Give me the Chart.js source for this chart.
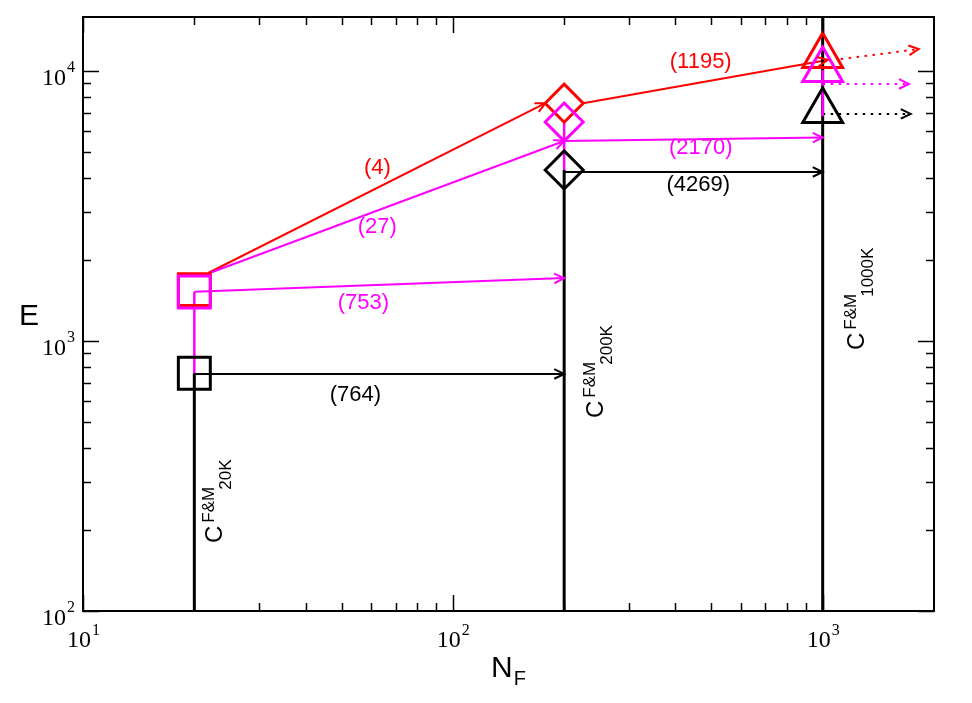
<!DOCTYPE html>
<html>
<head>
<meta charset="utf-8">
<script src="https://cdn.jsdelivr.net/npm/chart.js@4"></script>
<style>
  html, body { margin: 0; padding: 0; background: #fff; }
  canvas { display: block; }
</style>
</head>
<body>
<canvas id="chart" width="972" height="703"></canvas>
<script>
// N_F of the three models and the E value of each marker
const nF = [20, 200, 1000];
const blackE = [760, 4300, 7110];
const magentaE = [1520, 6470, 10090];
const redE = [1550, 7600, 11370];
const markerStyles = ['rect', 'rectRot', 'triangle'];

// solid arrows, [x0, y0, x1, y1]
const redArrows = [[21.8, 1786, 178, 7600], [225, 7600, 1031, 10985]];
const magentaArrows = [[22, 1786, 200, 5505], [20, 1521, 200, 1710], [200, 5505, 1000, 5672]];
const blackArrows = [[20, 755, 200, 755], [200, 4227, 1000, 4227]];
// dotted arrows past the last model
const redDotted = [1119, 11070, 1818, 12060];
const magentaDotted = [1000, 8954, 1711, 8954];
const blackDotted = [1000, 6936, 1730, 6936];
// vertical lines, [x, yFrom, yTo]
const blackDrops = [[20, 100, 760], [200, 100, 4300], [1000, 100, 15850]];
const magentaDrops = [[20, 1520, 760], [200, 6470, 4300], [1000, 10090, 6800]];

// annotations
const redLabels = ['(4)', '(1195)'];
const redLabelPos = [[62.5, 4375], [468, 10790]];
const magentaLabels = ['(27)', '(753)', '(2170)'];
const magentaLabelPos = [[62.5, 2642], [57.3, 1383], [468, 5188]];
const blackLabels = ['(764)', '(4269)'];
const blackLabelPos = [[54.5, 631], [461, 3784]];
const modelSubs = ['20K', '200K', '1000K'];
const modelLabelPos = [[23.8, 178.6], [254, 518.6], [1291, 926]];

// axes
const xMajor = [10, 100, 1000];
const xTickExp = ['1', '2', '3'];
const yMajor = [100, 1000, 10000];
const yTickExp = ['2', '3', '4'];

const RED = '#ff0000', MAG = '#ff00ff', BLK = '#000000';

function minorTicks(majors, max) {
    const out = [];
    majors.forEach(m => {
        out.push(m);
        for (let k = 2; k <= 9; k++) if (m * k < max) out.push(m * k);
    });
    return out;
}

function line(a, color, extra) {
    return Object.assign({
        data: [{ x: a[0], y: a[1] }, { x: a[2], y: a[3] }],
        showLine: true,
        borderColor: color,
        borderWidth: 2,
        pointRadius: 0,
        arrow: true,
        order: 5,
    }, extra);
}

function drop(d, color, width, order) {
    return {
        data: [{ x: d[0], y: d[1] }, { x: d[0], y: d[2] }],
        showLine: true,
        borderColor: color,
        borderWidth: width,
        pointRadius: 0,
        order: order,
    };
}

function markers(values, color, order) {
    return {
        data: nF.map((x, i) => ({ x: x, y: values[i] })),
        showLine: false,
        pointStyle: markerStyles,
        pointRadius: [22.6, 19, 23],
        pointBorderWidth: 3,
        pointBorderColor: color,
        pointBackgroundColor: 'rgba(0,0,0,0)',
        order: order,
    };
}

const datasets = [
    markers(magentaE, MAG, 0),
    markers(redE, RED, 1),
    markers(blackE, BLK, 2),
    ...magentaDrops.map(d => drop(d, MAG, 2.5, 3)),
    ...blackDrops.map(d => drop(d, BLK, 3, 4)),
    ...magentaArrows.map(a => line(a, MAG)),
    ...blackArrows.map(a => line(a, BLK)),
    ...redArrows.map(a => line(a, RED)),
    line(redDotted, RED, { borderDash: [2.5, 5.5] }),
    line(magentaDotted, MAG, { borderDash: [2.5, 5.5] }),
    line(blackDotted, BLK, { borderDash: [2.5, 5.5] }),
];

const decorations = {
    id: 'decorations',
    afterDatasetsDraw(chart) {
        const ctx = chart.ctx;
        const xs = chart.scales.x, ys = chart.scales.y;
        const area = chart.chartArea;

        // arrow heads
        chart.data.datasets.forEach((ds, i) => {
            if (!ds.arrow) return;
            const pts = chart.getDatasetMeta(i).data;
            const p0 = pts[0], p1 = pts[1];
            const ang = Math.atan2(p1.y - p0.y, p1.x - p0.x);
            const len = 11, spread = 0.45;
            ctx.save();
            ctx.strokeStyle = ds.borderColor;
            ctx.lineWidth = 2;
            ctx.beginPath();
            ctx.moveTo(p1.x - len * Math.cos(ang - spread), p1.y - len * Math.sin(ang - spread));
            ctx.lineTo(p1.x, p1.y);
            ctx.lineTo(p1.x - len * Math.cos(ang + spread), p1.y - len * Math.sin(ang + spread));
            ctx.stroke();
            ctx.restore();
        });

        // value labels
        ctx.save();
        ctx.font = '22px "Liberation Sans", Arial, sans-serif';
        ctx.textAlign = 'center';
        ctx.textBaseline = 'middle';
        const put = (texts, pos, color) => {
            ctx.fillStyle = color;
            texts.forEach((t, i) => ctx.fillText(t, xs.getPixelForValue(pos[i][0]), ys.getPixelForValue(pos[i][1])));
        };
        put(redLabels, redLabelPos, RED);
        put(magentaLabels, magentaLabelPos, MAG);
        put(blackLabels, blackLabelPos, BLK);
        ctx.restore();

        // rotated model labels C^{F&M}_{xxK}
        modelSubs.forEach((sub, i) => {
            ctx.save();
            ctx.translate(xs.getPixelForValue(modelLabelPos[i][0]), ys.getPixelForValue(modelLabelPos[i][1]));
            ctx.rotate(-Math.PI / 2);
            ctx.fillStyle = BLK;
            ctx.textBaseline = 'alphabetic';
            ctx.font = '24px "Liberation Sans", Arial, sans-serif';
            ctx.fillText('C', 0, 0);
            const wc = ctx.measureText('C').width;
            ctx.font = '17px "Liberation Sans", Arial, sans-serif';
            ctx.fillText('F&M', wc + 3, -8);
            const ws = ctx.measureText('F&M').width;
            ctx.fillText(sub, wc + ws, 9);
            ctx.restore();
        });

        // frame
        ctx.save();
        ctx.strokeStyle = BLK;
        ctx.lineWidth = 2;
        ctx.strokeRect(area.left, area.top, area.right - area.left, area.bottom - area.top);

        // inward ticks on all four sides
        ctx.lineWidth = 1.5;
        ctx.beginPath();
        xs.ticks.forEach(t => {
            const px = Math.round(xs.getPixelForValue(t.value)) + 0.5;
            const l = xMajor.includes(t.value) ? 16 : 8;
            ctx.moveTo(px, area.bottom); ctx.lineTo(px, area.bottom - l);
            ctx.moveTo(px, area.top); ctx.lineTo(px, area.top + l);
        });
        ys.ticks.forEach(t => {
            const py = Math.round(ys.getPixelForValue(t.value)) + 0.5;
            const l = yMajor.includes(t.value) ? 16 : 8;
            ctx.moveTo(area.left, py); ctx.lineTo(area.left + l, py);
            ctx.moveTo(area.right, py); ctx.lineTo(area.right - l, py);
        });
        ctx.stroke();

        // tick labels 10^n
        const serifBig = '24px "Liberation Serif", "Times New Roman", serif';
        const serifSmall = '16px "Liberation Serif", "Times New Roman", serif';
        ctx.fillStyle = BLK;
        ctx.textAlign = 'left';
        ctx.textBaseline = 'alphabetic';
        xMajor.forEach((v, i) => {
            const px = xs.getPixelForValue(v);
            ctx.font = serifBig;
            const w1 = ctx.measureText('10').width;
            ctx.font = serifSmall;
            const w2 = ctx.measureText(xTickExp[i]).width;
            const x0 = px - (w1 + w2) / 2;
            ctx.font = serifBig;
            ctx.fillText('10', x0, area.bottom + 36);
            ctx.font = serifSmall;
            ctx.fillText(xTickExp[i], x0 + w1 + 1, area.bottom + 24);
        });
        yMajor.forEach((v, i) => {
            const py = ys.getPixelForValue(v);
            ctx.font = serifSmall;
            const w2 = ctx.measureText(yTickExp[i]).width;
            ctx.font = serifBig;
            const w1 = ctx.measureText('10').width;
            const x0 = area.left - 8 - w2 - w1 - 1;
            ctx.fillText('10', x0, py + 14);
            ctx.font = serifSmall;
            ctx.fillText(yTickExp[i], x0 + w1 + 1, py + 1);
        });

        // axis titles
        ctx.font = '30px "Liberation Sans", Arial, sans-serif';
        ctx.fillText('E', 19, (area.top + area.bottom) / 2 + 11);
        const nx = 491;
        ctx.fillText('N', nx, area.bottom + 66);
        const wn = ctx.measureText('N').width;
        ctx.font = '20px "Liberation Sans", Arial, sans-serif';
        ctx.fillText('F', nx + wn + 1, area.bottom + 74);
        ctx.restore();
    },
};

new Chart(document.getElementById('chart').getContext('2d'), {
    type: 'scatter',
    data: { datasets: datasets },
    options: {
        responsive: false,
        animation: false,
        events: [],
        layout: { autoPadding: false, padding: { left: 0, right: 38, top: 17, bottom: 0 } },
        plugins: {
            legend: { display: false },
            tooltip: { enabled: false },
        },
        scales: {
            x: {
                type: 'logarithmic',
                min: 10,
                max: 2000,
                grid: { display: false },
                border: { display: false },
                ticks: { display: false },
                afterBuildTicks: s => { s.ticks = minorTicks(xMajor, 2000).map(v => ({ value: v })); },
                afterFit: s => { s.height = 92; },
            },
            y: {
                type: 'logarithmic',
                min: 100,
                max: 15850,
                grid: { display: false },
                border: { display: false },
                ticks: { display: false },
                afterBuildTicks: s => { s.ticks = minorTicks(yMajor, 15850).map(v => ({ value: v })); },
                afterFit: s => { s.width = 83; },
            },
        },
    },
    plugins: [decorations],
});
</script>
</body>
</html>
